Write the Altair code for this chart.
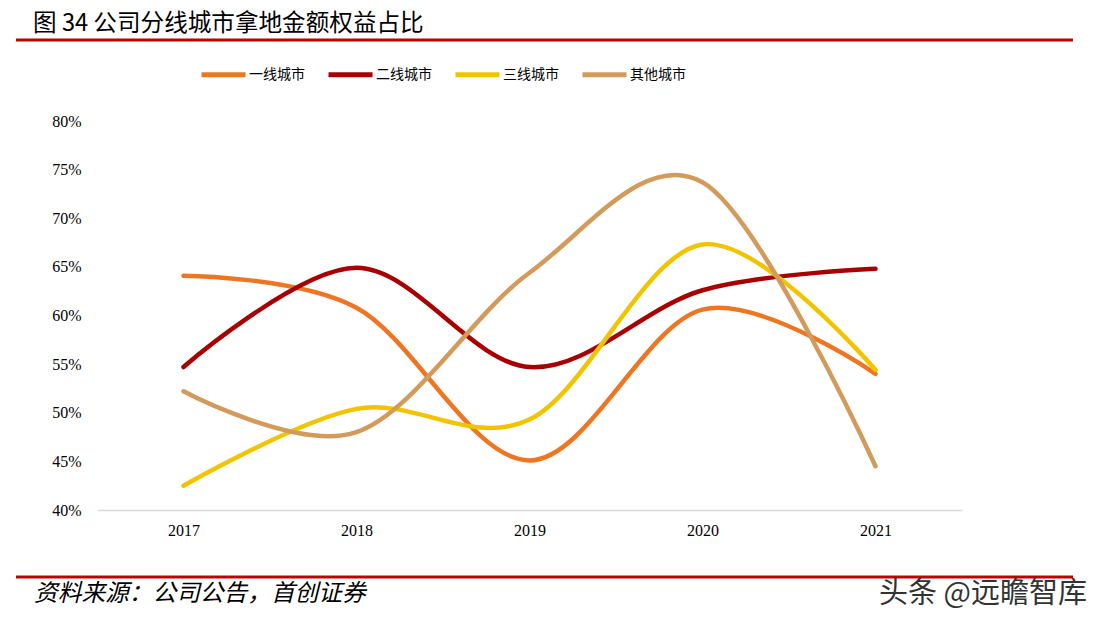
import altair as alt
import pandas as pd

years = ["2017", "2018", "2019", "2020", "2021"]
series_names = ["一线城市", "二线城市", "三线城市", "其他城市"]
tier1 = [64.1, 60.8, 45.1, 60.6, 54.0]
tier2 = [54.7, 64.9, 54.7, 62.6, 64.8]
tier3 = [42.5, 50.4, 49.3, 67.3, 54.4]
others = [52.2, 48.0, 64.4, 73.7, 44.5]
colors = ["#EE7623", "#A80000", "#F2C400", "#D29B5C"]
y_ticks = [40, 45, 50, 55, 60, 65, 70, 75, 80]

title_text = "图 34 公司分线城市拿地金额权益占比"
source_text = "资料来源：公司公告，首创证券"
watermark_text = "头条 @远瞻智库"

rows = []
for name, vals in zip(series_names, [tier1, tier2, tier3, others]):
    for yr, v in zip(years, vals):
        rows.append({"year": yr, "series": name, "value": v})
df = pd.DataFrame(rows)

serif = "Liberation Serif, Noto Sans CJK SC"
cjk = "Noto Sans CJK SC"

lines = alt.Chart(df).mark_line(
    interpolate="cardinal", strokeWidth=4.5, strokeCap="round", strokeJoin="round"
).encode(
    x=alt.X("year:N", sort=years, title=None,
            scale=alt.Scale(type="point", padding=0.5),
            axis=alt.Axis(labelAngle=0, ticks=False, domainColor="#D9D9D9",
                          domainWidth=1.5, labelFont=serif, labelFontSize=16,
                          labelColor="#000000", labelPadding=12, grid=False)),
    y=alt.Y("value:Q", title=None,
            scale=alt.Scale(domain=[40, 80], nice=False, zero=False),
            axis=alt.Axis(values=y_ticks, labelExpr="datum.value + '%'",
                          domain=False, ticks=False, grid=False,
                          labelFont=serif, labelFontSize=16, labelColor="#000000",
                          labelPadding=16)),
    color=alt.Color("series:N", sort=series_names,
                    scale=alt.Scale(domain=series_names, range=colors),
                    legend=alt.Legend(orient="none", legendX=102, legendY=-71,
                                      direction="horizontal", title=None,
                                      symbolType="stroke", symbolSize=1936,
                                      symbolStrokeWidth=5, labelFont=cjk,
                                      labelFontSize=14, labelColor="#000000",
                                      labelOffset=1, columnPadding=13)),
    order=alt.Order("series:N"),
)

title = alt.Chart(pd.DataFrame({"t": [title_text]})).mark_text(
    align="left", baseline="middle", font=cjk, fontSize=23.6, color="#000000"
).encode(text="t:N", x=alt.value(-64), y=alt.value(-97))

source = alt.Chart(pd.DataFrame({"t": [source_text]})).mark_text(
    align="left", baseline="middle", font=cjk, fontSize=23.7, fontStyle="italic",
    color="#000000"
).encode(text="t:N", x=alt.value(-63), y=alt.value(473))

watermark = alt.Chart(pd.DataFrame({"t": [watermark_text]})).mark_text(
    align="left", baseline="middle", font=cjk, fontSize=29, color="#333333"
).encode(text="t:N", x=alt.value(782), y=alt.value(473))

rule_df = pd.DataFrame({"k": [0]})
top_rule = alt.Chart(rule_df).mark_rule(color="#C00000", strokeWidth=3).encode(
    x=alt.value(-81), x2=alt.value(976), y=alt.value(-81))
bottom_rule = alt.Chart(rule_df).mark_rule(color="#C00000", strokeWidth=3).encode(
    x=alt.value(-81), x2=alt.value(976), y=alt.value(456))

chart = alt.layer(lines, top_rule, bottom_rule, title, source, watermark).properties(
    width=865, height=389,
    background="white",
    autosize=alt.AutoSizeParams(type="none"),
    padding={"left": 89, "top": 113, "right": 132, "bottom": 105},
).configure_view(stroke=None)

chart.save("out.html", embed_options={"renderer": "svg", "actions": False})
